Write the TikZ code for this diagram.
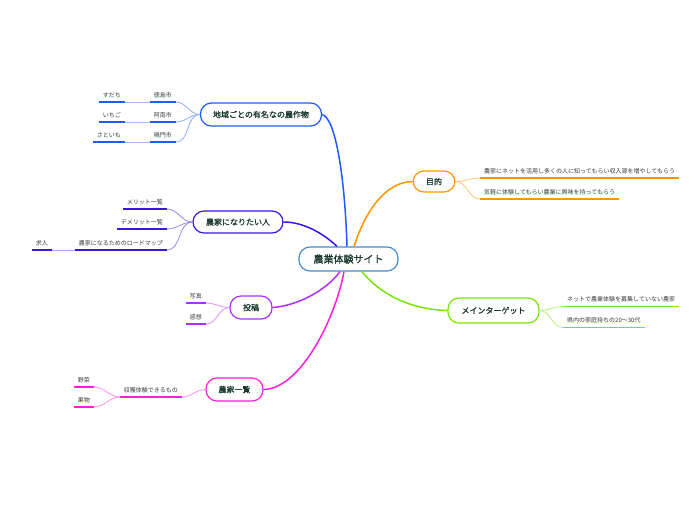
\documentclass[tikz,border=0pt]{standalone}
\usepackage{fontspec}
\setmainfont{Noto Sans CJK JP}
\newfontfamily\topicfont[FakeBold=1]{Noto Sans CJK JP}
\definecolor{cBlue}{RGB}{30,90,255}
\definecolor{cViolet}{RGB}{60,20,230}
\definecolor{cPurple}{RGB}{175,45,255}
\definecolor{cMagenta}{RGB}{255,30,220}
\definecolor{cOrange}{RGB}{255,150,0}
\definecolor{cGreen}{RGB}{120,230,10}
\definecolor{cCenter}{RGB}{70,140,210}
\definecolor{topictext}{RGB}{25,55,45}
\definecolor{subtext}{RGB}{60,60,60}
\begin{document}
\begin{tikzpicture}[x=1pt,y=-1pt,
  topic/.style={draw, rounded corners=11pt, line width=1.2pt, fill=white,
    font=\topicfont\fontsize{8}{9}\selectfont, text=topictext, inner sep=0pt, minimum height=22pt},
  centertopic/.style={topic, draw=cCenter, font=\topicfont\fontsize{10}{11}\selectfont, minimum height=24pt, minimum width=99pt},
  sub/.style={font=\fontsize{6}{7}\selectfont, text=subtext, inner xsep=4pt, inner ysep=3.5pt, text height=4.5pt, text depth=1pt},
  uline/.style={line width=1.5pt},
  thinconn/.style={line width=0.8pt},
  mainconn/.style={line width=1.5pt}]
\useasboundingbox (0,0) rectangle (696,520);
\fill[white] (0,0) rectangle (696,520);

% main topics
\node[centertopic] (c) at (348.5,259) {農業体験サイト};
\node[topic, draw=cBlue, minimum width=121pt, minimum height=23pt] (g1) at (261,114.5) {地域ごとの有名なの農作物};
\node[topic, draw=cViolet, minimum width=90pt] (g2) at (238,222) {農家になりたい人};
\node[topic, draw=cPurple, minimum width=42pt, minimum height=23pt] (g3) at (251,307.5) {投稿};
\node[topic, draw=cMagenta, minimum width=57pt, minimum height=23pt] (g4) at (234.5,389.5) {農家一覧};
\node[topic, draw=cOrange, minimum width=42pt, minimum height=21pt] (m1) at (434,181.5) {目的};
\node[topic, draw=cGreen, minimum width=91pt, minimum height=25pt] (m2) at (493.5,310.5) {メインターゲット};

% main connectors
\draw[mainconn, cBlue] ([xshift=-1.5pt]c.north) .. controls (345,180) and (336,118) .. (g1.east);
\draw[mainconn, cOrange] ([xshift=5.5pt]c.north) .. controls (365,212) and (385,182) .. (m1.west);
\draw[mainconn, cViolet] ([xshift=-11.5pt]c.north) .. controls (325,235) and (305,222) .. (g2.east);
\draw[mainconn, cPurple] ([xshift=-8.5pt]c.south) .. controls (325,292) and (295,306) .. (g3.east);
\draw[mainconn, cMagenta] ([xshift=-4.5pt]c.south) .. controls (335,320) and (300,389) .. (g4.east);
\draw[mainconn, cGreen] ([xshift=13.5pt]c.south) .. controls (385,300) and (420,310) .. (m2.west);

% right side subtopics
\node[sub, anchor=south west] (s11) at (480,178) {農家にネットを活用し多くの人に知ってもらい収入源を増やしてもらう};
\node[sub, anchor=south west] (s12) at (480,199) {気軽に体験してもらい農業に興味を持ってもらう};
\node[sub, anchor=south west] (s21) at (563,306.5) {ネットで農業体験を募集していない農家};
\node[sub, anchor=south west] (s22) at (563,327.5) {県内の家庭持ちの20～30代};

% left side subtopics
\node[sub, anchor=south east] (a1) at (176,102) {徳島市};
\node[sub, anchor=south east] (a2) at (176,122) {阿南市};
\node[sub, anchor=south east] (a3) at (176,142) {鳴門市};
\node[sub, anchor=south east] (aa1) at (125,102) {すだち};
\node[sub, anchor=south east] (aa2) at (125,122) {いちご};
\node[sub, anchor=south east] (aa3) at (125,142) {さといも};

\node[sub, anchor=south east] (b1) at (167,209) {メリット一覧};
\node[sub, anchor=south east] (b2) at (167,229) {デメリット一覧};
\node[sub, anchor=south east] (b3) at (167,250) {農家になるためのロードマップ};
\node[sub, anchor=south east] (bb3) at (52,250) {求人};

\node[sub, anchor=south east] (p1) at (206,303) {写真};
\node[sub, anchor=south east] (p2) at (206,324) {感想};

\node[sub, anchor=south east] (f1) at (182,397) {収穫体験できるもの};
\node[sub, anchor=south east] (ff1) at (94,387) {野菜};
\node[sub, anchor=south east] (ff2) at (94,407) {果物};

% underlines
\draw[uline, draw=cOrange] (s11.south west) -- (s11.south east);
\draw[uline, draw=cOrange] (s12.south west) -- (s12.south east);
\draw[uline, draw=cGreen] (s21.south west) -- (s21.south east);
\draw[uline, draw=cGreen] (s22.south west) -- (s22.south east);
\foreach \n in {a1,a2,a3,aa1,aa2,aa3} \draw[uline, cBlue] (\n.south west) -- (\n.south east);
\foreach \n in {b1,b2,b3,bb3} \draw[uline, cViolet] (\n.south west) -- (\n.south east);
\foreach \n in {p1,p2} \draw[uline, cPurple] (\n.south west) -- (\n.south east);
\foreach \n in {f1,ff1,ff2} \draw[uline, cMagenta] (\n.south west) -- (\n.south east);

% sub connectors
\foreach \n in {s11,s12} \draw[thinconn, cOrange!55] (m1.east) to[out=0,in=180] (\n.south west);
\foreach \n in {s21,s22} \draw[thinconn, cGreen!55] (m2.east) to[out=0,in=180] (\n.south west);
\foreach \n in {a1,a2,a3} \draw[thinconn, cBlue!50] (g1.west) to[out=180,in=0] (\n.south east);
\draw[thinconn, cBlue!40] (a1.south west) -- (aa1.south east);
\draw[thinconn, cBlue!40] (a2.south west) -- (aa2.south east);
\draw[thinconn, cBlue!40] (a3.south west) -- (aa3.south east);
\foreach \n in {b1,b2,b3} \draw[thinconn, cViolet!50] (g2.west) to[out=180,in=0] (\n.south east);
\draw[thinconn, cViolet!40] (b3.south west) -- (bb3.south east);
\foreach \n in {p1,p2} \draw[thinconn, cPurple!50] (g3.west) to[out=180,in=0] (\n.south east);
\draw[thinconn, cMagenta!50] (g4.west) to[out=180,in=0] (f1.south east);
\foreach \n in {ff1,ff2} \draw[thinconn, cMagenta!50] (f1.south west) to[out=180,in=0] (\n.south east);
\end{tikzpicture}
\end{document}
